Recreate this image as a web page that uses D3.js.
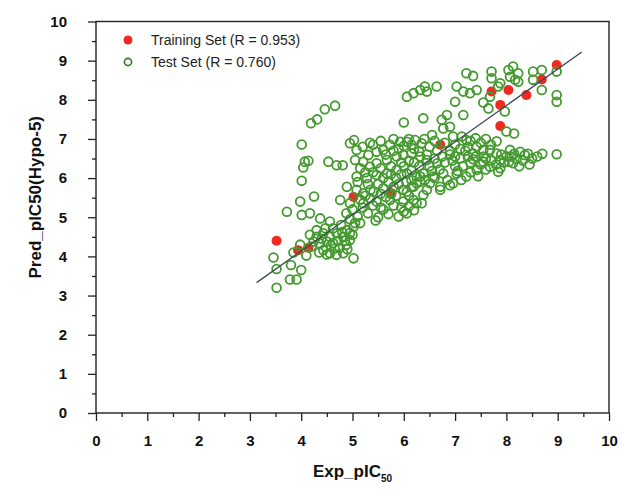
<!DOCTYPE html>
<html>
<head>
<meta charset="utf-8">
<script src="https://cdn.jsdelivr.net/npm/d3@7"></script>
<style>
  html, body { margin: 0; padding: 0; background: #fff; }
  svg { display: block; font-family: Arial, "Liberation Sans", sans-serif; }
</style>
</head>
<body>
<svg id="chart" width="622" height="491"></svg>
<script>
// Data
const X_TICKS = [0, 1, 2, 3, 4, 5, 6, 7, 8, 9, 10];
const Y_TICKS = [0, 1, 2, 3, 4, 5, 6, 7, 8, 9, 10];

const trainPoints = [
  [3.52, 4.40], [3.94, 4.16], [4.14, 4.22], [5.02, 5.52], [5.76, 5.61],
  [6.71, 6.85], [7.71, 8.21], [7.88, 7.87], [7.88, 7.33], [8.04, 8.25],
  [8.39, 8.12], [8.69, 8.52], [8.98, 8.89]
];

const testPoints = [
  // lower left
  [3.52, 3.20], [3.52, 3.68], [3.46, 3.97], [3.72, 5.14], [3.80, 3.78], [3.78, 3.41],
  [3.91, 3.41], [3.85, 4.10], [4.00, 3.65], [3.98, 5.40], [4.01, 5.06], [4.17, 5.10],
  [4.37, 4.97], [4.56, 4.89], [5.02, 3.95], [4.17, 4.55], [4.24, 4.38], [4.37, 4.33],
  [4.43, 4.16], [4.56, 4.08], [4.69, 4.04], [4.82, 4.08], [4.95, 4.42], [4.82, 4.50],
  [4.69, 4.59], [4.56, 4.50], [4.43, 4.59], [4.30, 4.67], [4.89, 4.67], [5.02, 4.76],
  [4.62, 4.34], [4.50, 4.38], [4.10, 4.02], [4.20, 4.25], [4.35, 4.10], [3.98, 4.30],
  [4.50, 4.05], [4.75, 4.22], [4.90, 4.18], [4.62, 4.72], [4.78, 4.80], [4.95, 4.60],
  [4.72, 4.40], [4.88, 4.30], [4.40, 4.45], [4.65, 4.20], [5.00, 4.55],
  [4.58, 4.28], [4.80, 4.62], [4.47, 4.72], [4.30, 4.50], [4.85, 4.40],
  // upper left outliers
  [4.46, 7.76], [4.66, 7.85], [4.19, 7.40], [4.31, 7.50], [4.01, 6.86], [4.07, 6.42],
  [4.14, 6.44], [4.04, 6.27], [4.01, 5.93], [4.25, 5.53], [4.53, 6.42], [4.69, 6.33],
  [4.81, 6.33], [4.95, 6.89], [5.03, 6.97], [5.08, 6.72],
  // middle
  [5.31, 6.59], [5.47, 6.67], [5.60, 6.72], [5.73, 6.85], [5.93, 6.93], [6.06, 6.93],
  [6.22, 6.97], [6.35, 6.89], [5.05, 6.46], [5.21, 6.42], [5.34, 6.29], [5.47, 6.38],
  [5.67, 6.46], [5.86, 6.55], [5.99, 6.59], [6.15, 6.63], [6.32, 6.55], [6.45, 6.46],
  [5.08, 6.04], [5.28, 6.00], [5.47, 6.08], [5.67, 6.12], [5.86, 6.21], [6.06, 6.12],
  [6.25, 6.04], [6.38, 6.12], [4.89, 5.78], [5.08, 5.70], [5.21, 5.61], [5.41, 5.65],
  [5.60, 5.74], [5.80, 5.78], [5.99, 5.70], [6.19, 5.78], [6.32, 5.91], [4.76, 5.44],
  [4.95, 5.36], [5.21, 5.36], [5.47, 5.40], [5.73, 5.44], [5.99, 5.40], [6.25, 5.36],
  [5.00, 5.20], [5.10, 5.02], [5.20, 5.25], [5.30, 5.10], [5.40, 5.30], [5.50, 5.00],
  [5.60, 5.20], [5.70, 5.08], [5.80, 5.30], [5.90, 5.02], [6.00, 5.15], [6.10, 5.28],
  [6.20, 5.18], [5.45, 4.92], [5.15, 4.85], [4.95, 4.95], [4.88, 5.10], [5.35, 5.48],
  [5.65, 5.52], [5.25, 5.55], [5.05, 4.85], [5.34, 6.90], [5.55, 6.95], [5.15, 6.25],
  [5.40, 6.15], [5.75, 6.30], [5.95, 6.40], [6.10, 6.45], [5.55, 6.25], [5.85, 6.00],
  [6.05, 5.90], [5.70, 5.90], [5.30, 5.85], [5.10, 5.90], [5.50, 5.85], [6.15, 6.20],
  [5.95, 6.10], [6.10, 5.55], [5.85, 5.55],
  [5.20, 6.80], [5.40, 6.85], [5.65, 6.60], [5.80, 6.70], [6.00, 6.30], [6.20, 6.40],
  [5.25, 6.15], [5.60, 6.00], [5.75, 6.10], [6.30, 6.30], [5.35, 5.70], [5.55, 5.60],
  [5.90, 5.85], [6.15, 5.95], [5.15, 5.45], [5.55, 5.25], [5.75, 5.60], [5.95, 5.25],
  // upper cluster
  [6.00, 7.42], [6.06, 8.08], [6.19, 8.17], [6.32, 8.25], [6.41, 8.34], [6.45, 8.21],
  [6.64, 8.34], [6.38, 7.53], [7.22, 8.68], [7.35, 8.61], [7.71, 8.72], [7.71, 8.55],
  [7.88, 8.42], [8.04, 8.76], [8.13, 8.85], [8.23, 8.68], [8.17, 8.51], [8.07, 8.59],
  [8.23, 8.46], [8.52, 8.72], [8.69, 8.76], [8.52, 8.51], [8.98, 8.72], [8.69, 8.25],
  [8.98, 8.12], [8.98, 7.95], [8.98, 6.61], [8.00, 7.19], [8.15, 7.14], [7.97, 7.70],
  [7.68, 8.08], [7.55, 7.93], [7.65, 7.78], [7.84, 8.34], [7.42, 8.25], [7.29, 8.17],
  [7.16, 8.21], [7.03, 8.34], [7.00, 7.95], [7.16, 7.61], [6.84, 7.61], [6.74, 7.49],
  [6.77, 7.27], [6.90, 7.31], [7.13, 7.06], [7.22, 6.97], [6.96, 7.06], [7.81, 6.94],
  // right band
  [8.07, 6.72], [8.27, 6.67], [8.36, 6.59], [8.20, 6.50], [8.00, 6.55], [7.81, 6.63],
  [7.68, 6.72], [7.55, 6.72], [7.42, 6.80], [7.35, 6.63], [7.88, 6.46], [8.13, 6.38],
  [7.68, 6.29], [7.88, 6.25], [7.42, 6.21], [7.22, 6.04], [7.03, 6.12], [6.77, 6.12],
  [6.57, 6.04], [6.41, 5.95], [6.25, 5.87], [6.90, 5.82], [6.71, 5.78], [6.51, 5.87],
  [6.32, 6.04], [6.15, 5.78], [6.06, 5.65], [6.38, 5.57], [6.19, 5.44], [6.35, 5.36],
  [6.06, 5.10], [7.84, 6.16], [6.71, 5.70], [6.45, 5.70], [6.96, 5.87],
  [6.50, 6.30], [6.60, 6.50], [6.70, 6.22], [6.80, 6.40], [6.90, 6.60], [7.00, 6.30],
  [7.10, 6.50], [7.20, 6.70], [7.30, 6.40], [7.40, 6.55], [7.50, 6.35], [7.60, 6.50],
  [7.70, 6.45], [7.80, 6.35], [7.90, 6.60], [8.05, 6.42], [8.10, 6.55], [8.25, 6.30],
  [8.32, 6.45], [8.42, 6.62], [8.50, 6.50], [8.60, 6.55], [8.45, 6.35], [8.70, 6.62],
  [6.60, 6.00], [6.85, 5.95], [7.05, 6.18], [7.12, 5.95], [7.30, 6.15], [7.45, 6.05],
  [7.60, 6.22], [6.55, 6.18], [6.95, 6.45], [7.15, 6.30], [7.35, 6.48], [7.55, 6.42],
  [7.95, 6.40], [8.15, 6.62], [6.65, 6.38], [7.25, 6.55],
  // upper middle band
  [6.00, 6.82], [6.20, 6.75], [6.40, 7.00], [6.50, 6.80], [6.60, 6.95], [6.80, 6.90],
  [7.00, 6.85], [7.10, 6.75], [7.30, 6.95], [7.40, 7.02], [7.50, 6.90], [7.60, 7.00],
  [7.70, 6.85], [6.30, 6.68], [5.90, 6.75], [6.90, 6.70], [5.80, 7.00], [6.10, 7.00],
  [6.55, 7.10], [6.65, 6.70], [7.25, 6.80], [7.55, 6.55], [6.45, 6.60], [6.75, 6.55],
  [7.00, 6.55], [6.15, 6.85]
];

// regression line endpoints
const fitX = [3.13, 9.47];
const fitY = [3.33, 9.22];

const legendItems = [
  { label: "Training Set (R = 0.953)", kind: "train" },
  { label: "Test Set (R = 0.760)", kind: "test" }
];

// Config
const PLOT = { left: 96, right: 609, top: 21.5, bottom: 413 };
const RED = "#f02a22";
const GREEN = "#44992f";

const svg = d3.select("#chart");

const x = d3.scaleLinear().domain([0, 10]).range([PLOT.left, PLOT.right]);
const y = d3.scaleLinear().domain([0, 10]).range([PLOT.bottom, PLOT.top]);

// Frame
svg.append("rect")
  .attr("x", PLOT.left).attr("y", PLOT.top)
  .attr("width", PLOT.right - PLOT.left).attr("height", PLOT.bottom - PLOT.top)
  .attr("fill", "none").attr("stroke", "#222").attr("stroke-width", 1.4);

// minor ticks
const minor = d3.range(0.5, 10, 1);
const xAxisG = svg.append("g").attr("transform", `translate(0,${PLOT.bottom})`);
xAxisG.call(d3.axisBottom(x).tickValues(minor).tickSize(4).tickFormat(""))
  .call(g => g.select(".domain").remove());
xAxisG.append("g")
  .call(d3.axisBottom(x).tickValues(X_TICKS).tickSize(8).tickPadding(14).tickFormat(d3.format("d")))
  .call(g => g.select(".domain").remove());

const yAxisG = svg.append("g").attr("transform", `translate(${PLOT.left},0)`);
yAxisG.call(d3.axisLeft(y).tickValues(minor).tickSize(4).tickFormat(""))
  .call(g => g.select(".domain").remove());
yAxisG.append("g")
  .call(d3.axisLeft(y).tickValues(Y_TICKS).tickSize(8).tickPadding(21).tickFormat(d3.format("d")))
  .call(g => g.select(".domain").remove());

svg.selectAll(".tick line").attr("stroke", "#222").attr("stroke-width", 1.3);
svg.selectAll(".tick text")
  .attr("font-size", 15).attr("font-weight", "bold")
  .attr("font-family", "Arial, 'Liberation Sans', sans-serif")
  .attr("fill", "#111");

// Axis titles
const xTitle = svg.append("text")
  .attr("x", (PLOT.left + PLOT.right) / 2).attr("y", 477)
  .attr("text-anchor", "middle")
  .attr("font-size", 17).attr("font-weight", "bold").attr("fill", "#111");
xTitle.append("tspan").text("Exp_pIC");
xTitle.append("tspan").attr("font-size", 10).attr("dy", 5).text("50");

svg.append("text")
  .attr("transform", `translate(41,${(PLOT.top + PLOT.bottom) / 2 - 20}) rotate(-90)`)
  .attr("text-anchor", "middle")
  .attr("font-size", 17).attr("font-weight", "bold").attr("fill", "#111")
  .text("Pred_pIC50(Hypo-5)");

// Training points (under test points)
svg.append("g").selectAll("circle")
  .data(trainPoints).join("circle")
  .attr("cx", d => x(d[0])).attr("cy", d => y(d[1]))
  .attr("r", 5).attr("fill", RED);

// Test points
svg.append("g").selectAll("circle")
  .data(testPoints).join("circle")
  .attr("cx", d => x(d[0])).attr("cy", d => y(d[1]))
  .attr("r", 4.4).attr("fill", "none")
  .attr("stroke", GREEN).attr("stroke-width", 1.8);

// Fit line
svg.append("line")
  .attr("x1", x(fitX[0])).attr("y1", y(fitY[0]))
  .attr("x2", x(fitX[1])).attr("y2", y(fitY[1]))
  .attr("stroke", "#3b4858").attr("stroke-width", 1.3);

// Legend
const legend = svg.append("g");
legendItems.forEach((item, i) => {
  const cy = 40 + i * 22;
  if (item.kind === "train") {
    legend.append("circle").attr("cx", 128).attr("cy", cy).attr("r", 4.5).attr("fill", RED);
  } else {
    legend.append("circle").attr("cx", 128).attr("cy", cy).attr("r", 3.6)
      .attr("fill", "none").attr("stroke", "#2f7a2a").attr("stroke-width", 1.6);
  }
  legend.append("text")
    .attr("x", 151).attr("y", cy + 5)
    .attr("font-size", 14).attr("fill", "#222")
    .text(item.label);
});
</script>
</body>
</html>
